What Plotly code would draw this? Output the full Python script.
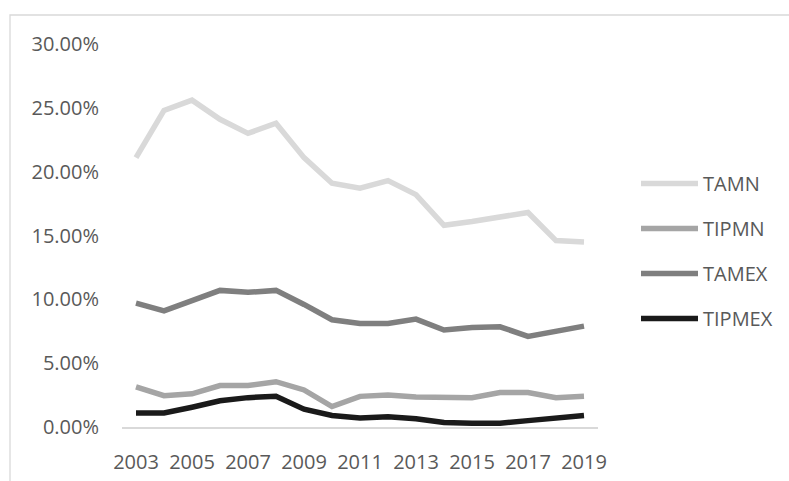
import plotly.graph_objects as go

years = list(range(2003, 2020))
tick_years = [2003, 2005, 2007, 2009, 2011, 2013, 2015, 2017, 2019]

tamn = [0.211, 0.248, 0.256, 0.241, 0.230, 0.238, 0.211, 0.191, 0.187, 0.193, 0.182,
        0.158, 0.161, 0.165, 0.168, 0.146, 0.145]
tipmn = [0.0315, 0.0245, 0.026, 0.0325, 0.0325, 0.0355, 0.029, 0.016, 0.024, 0.025, 0.0235,
         0.023, 0.023, 0.027, 0.027, 0.023, 0.024]
tamex = [0.097, 0.091, 0.099, 0.107, 0.1055, 0.107, 0.096, 0.084, 0.081, 0.081, 0.0845,
         0.076, 0.078, 0.0785, 0.071, 0.075, 0.079]
tipmex = [0.011, 0.011, 0.0155, 0.0205, 0.023, 0.024, 0.014, 0.009, 0.007, 0.008, 0.0065,
          0.0035, 0.003, 0.003, 0.005, 0.007, 0.009]

series = [("TAMN", tamn, "#d9d9d9"), ("TIPMN", tipmn, "#a5a5a5"),
          ("TAMEX", tamex, "#7f7f7f"), ("TIPMEX", tipmex, "#1a1a1a")]

fig = go.Figure()
for name, vals, col in series:
    fig.add_trace(go.Scatter(x=years, y=vals, name=name, mode="lines", legendgroup=name,
                             line=dict(color=col, width=5.5)))

W, H = 789, 481
L, R, T, B = 122, 191, 44, 54
pw, ph = W - L - R, H - T - B

def px_x(p):
    return (p - L) / pw

def px_y(p):
    return (H - B - p) / ph

fig.add_shape(type="rect", xref="paper", yref="paper",
              x0=px_x(10), x1=px_x(800), y0=px_y(495), y1=px_y(15),
              line=dict(color="#d9d9d9", width=1.3), fillcolor="rgba(0,0,0,0)", layer="below")

font = "Open Sans"
fig.update_layout(
    width=W, height=H,
    margin=dict(l=L, r=R, t=T, b=B, autoexpand=False),
    plot_bgcolor="white", paper_bgcolor="white",
    showlegend=True,
    legend=dict(x=px_x(636), xanchor="left", y=px_y(164), yanchor="top",
                font=dict(family=font, size=20, color="#595959"),
                tracegroupgap=16, itemwidth=57, bgcolor="rgba(0,0,0,0)"),
    xaxis=dict(range=[2002.5, 2019.5], tickvals=tick_years, ticktext=[str(y) for y in tick_years],
               showgrid=False, zeroline=False, showline=True, linecolor="#d9d9d9", linewidth=1.5,
               ticks="", ticklabelstandoff=16, automargin=False,
               tickfont=dict(family=font, size=20, color="#595959")),
    yaxis=dict(range=[0, 0.30], dtick=0.05, tickformat=".2%", showgrid=False, zeroline=False,
               showline=False, ticks="", ticklabelstandoff=22, automargin=False,
               tickfont=dict(family=font, size=20, color="#595959")),
)

fig.write_html("out.html")
